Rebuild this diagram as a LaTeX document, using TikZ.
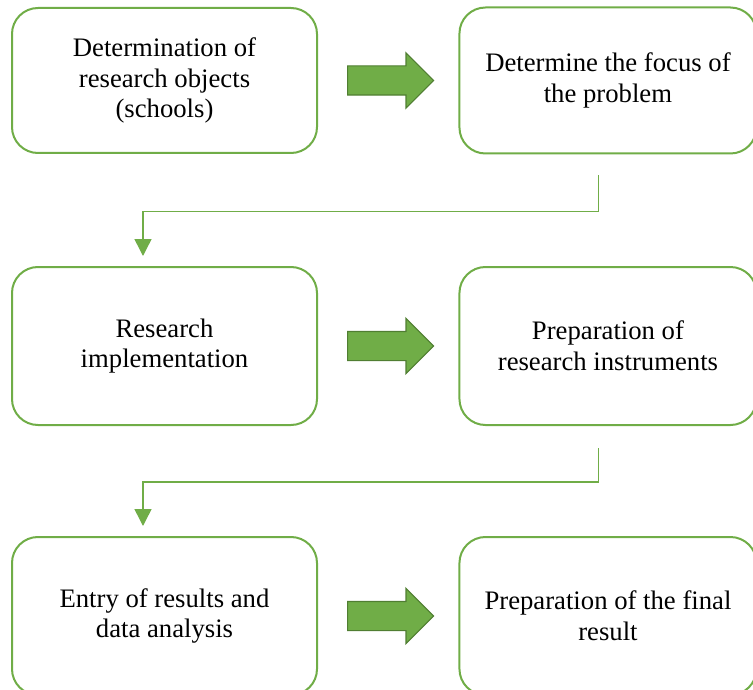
\documentclass[tikz,border=0pt]{standalone}
\usepackage{fontspec}
\setmainfont{Liberation Serif}
\usepackage{xcolor}
\usetikzlibrary{positioning,shapes.arrows,arrows.meta}
\definecolor{boxgreen}{HTML}{70AD47}
\definecolor{darkgreen}{HTML}{507E32}
\begin{document}
\begin{tikzpicture}
\tikzset{stepbox/.style={draw=boxgreen,line width=2pt,rounded corners=26pt,align=center,minimum width=305pt}}
\tikzset{rightbox/.style={stepbox,minimum width=297pt}}
\tikzset{bigarrow/.style={single arrow,fill=boxgreen,draw=darkgreen,line width=1.2pt,inner sep=14pt,single arrow head extend=13pt,minimum height=86pt}}
\tikzset{link/.style={draw=boxgreen,line width=1.5pt,-{Triangle[width=17pt,length=17pt]}}}

\fontsize{26.7pt}{30.7pt}\selectfont
\useasboundingbox (0,0) rectangle (753pt,-690pt);

\node[stepbox,minimum height=145pt] (objects) at (164.5pt,-80.5pt) {Determination of\\research objects\\(schools)};
\node[bigarrow,right=29pt of objects] (go1) {};
\node[rightbox,minimum height=146pt,right=24pt of go1] (focus) {Determine the focus of\\the problem};

\node[stepbox,minimum height=158pt,below=112pt of objects] (implement) {Research\\implementation};
\node[bigarrow,right=29pt of implement] (go2) {};
\node[rightbox,minimum height=158pt,right=24pt of go2] (instruments) {Preparation of\\research instruments};

\node[stepbox,minimum height=158pt,below=110pt of implement] (entry) {Entry of results and\\data analysis};
\node[bigarrow,right=29pt of entry] (go3) {};
\node[rightbox,minimum height=158pt,right=24pt of go3] (final) {Preparation of the final\\result};

\coordinate (from1) at ([xshift=-9.5pt,yshift=-21pt]focus.south);
\coordinate (from2) at ([xshift=-9.5pt,yshift=-22pt]instruments.south);
\draw[link] (from1) -- ++(0,-36pt) -| ([xshift=-21.5pt,yshift=10pt]implement.north);
\draw[link] (from2) -- ++(0,-34pt) -| ([xshift=-21.5pt,yshift=10pt]entry.north);

\end{tikzpicture}
\end{document}
